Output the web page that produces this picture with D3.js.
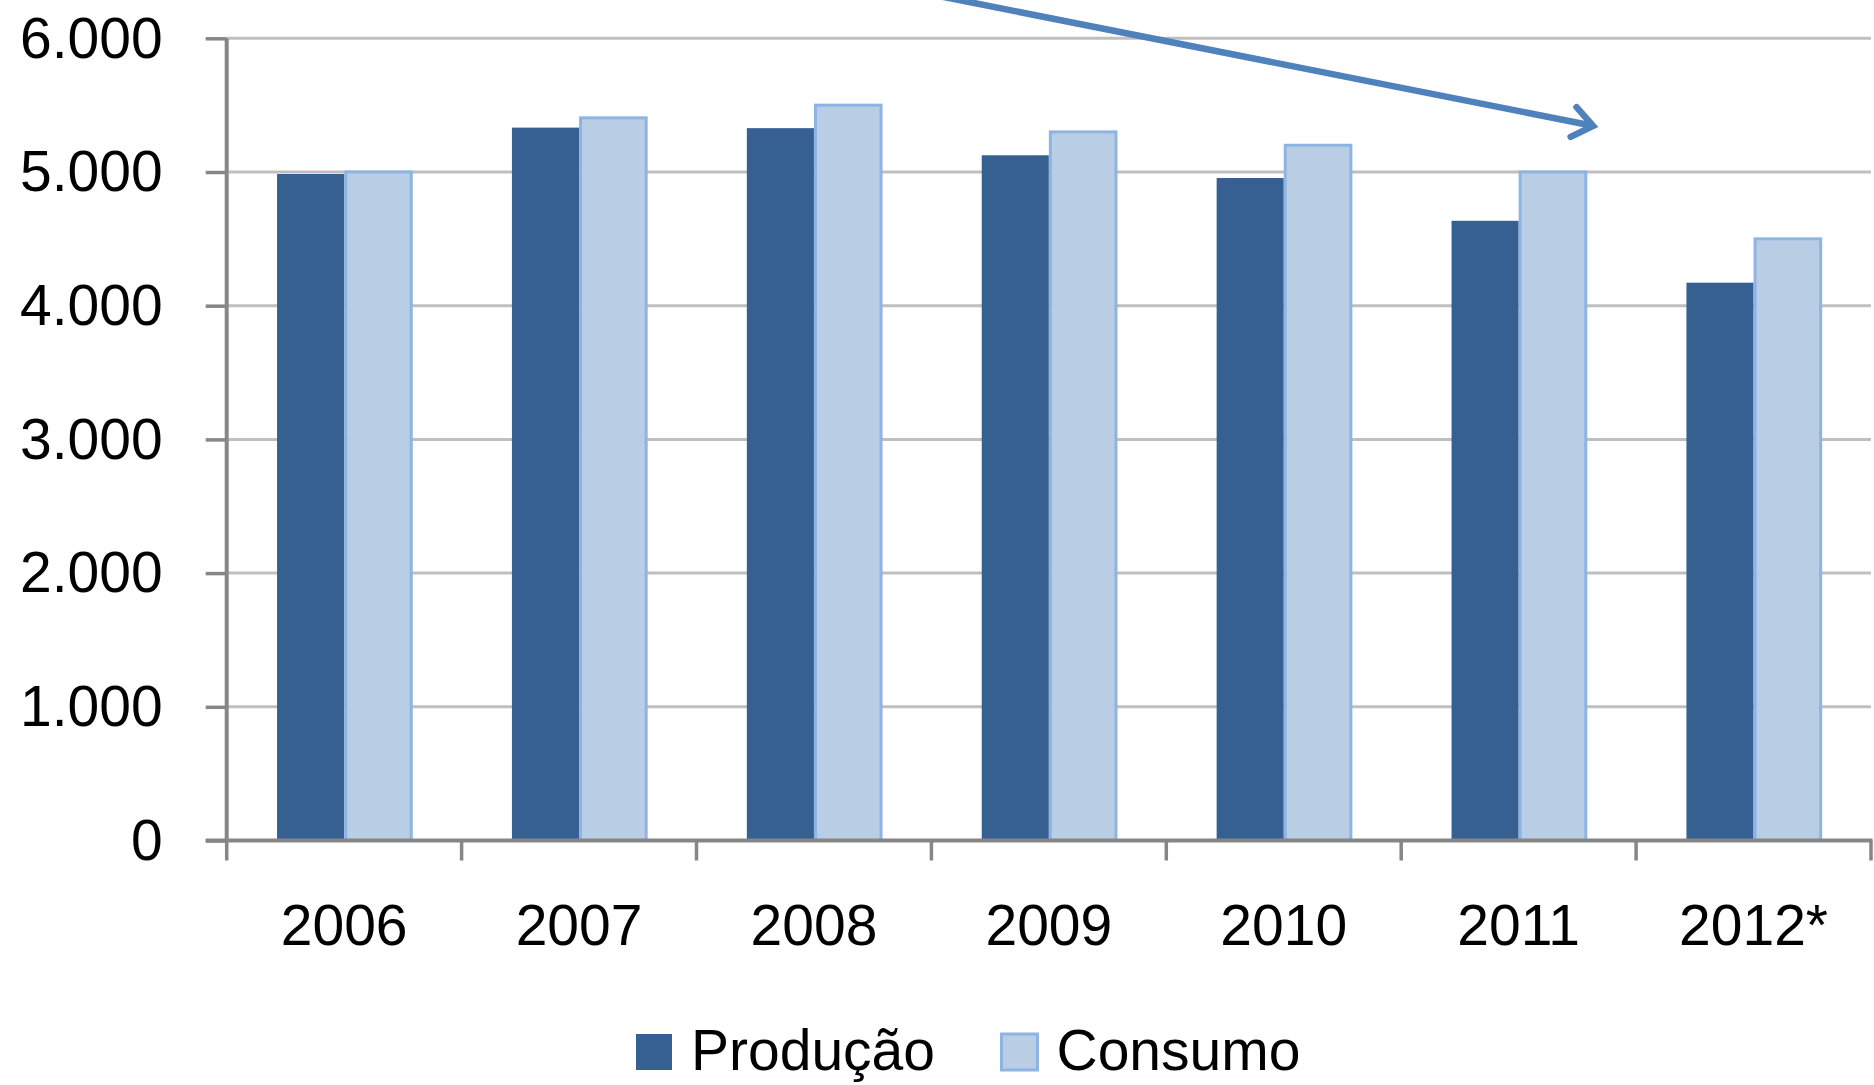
<!DOCTYPE html>
<html>
<head>
<meta charset="utf-8">
<script src="https://cdn.jsdelivr.net/npm/d3@7"></script>
<style>
  html, body { margin: 0; padding: 0; background: #ffffff; }
  svg { display: block; }
  text { font-family: "Liberation Sans", Arial, sans-serif; fill: #000; }
</style>
</head>
<body>
<svg id="chart" width="1874" height="1085"></svg>
<script>
// ---- data ----
const categories = ["2006", "2007", "2008", "2009", "2010", "2011", "2012*"];
const producao = [4985, 5332, 5328, 5125, 4955, 4635, 4172];
const consumo  = [5000, 5405, 5500, 5300, 5200, 5000, 4500];
const seriesNames = ["Produção", "Consumo"];
const yTicks = [0, 1000, 2000, 3000, 4000, 5000, 6000];

// ---- layout ----
const W = 1874, H = 1085;
const plot = { left: 226.7, right: 1871, top: 38.3, bottom: 840.5 };
const colors = {
  dark: "#376092",
  light: "#B9CDE5",
  lightStroke: "#8DB4E2",
  axis: "#868686",
  grid: "#BFBFBF",
  arrow: "#4F81BD"
};

const svg = d3.select("#chart");

const x = d3.scaleBand().domain(categories).range([plot.left, plot.right]).padding(0);
const xs = d3.scaleBand().domain(seriesNames).range([0, x.bandwidth()])
  .paddingInner(0).paddingOuter(0.75);
const y = d3.scaleLinear().domain([0, 6000]).range([plot.bottom, plot.top]);

const fmt = d3.formatLocale({ decimal: ",", thousands: ".", grouping: [3], currency: ["", ""] }).format(",d");

// gridlines
svg.append("g").selectAll("line").data(yTicks.filter(d => d > 0)).join("line")
  .attr("x1", plot.left).attr("x2", plot.right)
  .attr("y1", d => y(d)).attr("y2", d => y(d))
  .attr("stroke", colors.grid).attr("stroke-width", 3);

// bars
const rows = categories.map((c, i) => ({ cat: c, vals: [producao[i], consumo[i]] }));
const groups = svg.append("g").selectAll("g").data(rows).join("g")
  .attr("transform", d => `translate(${x(d.cat)},0)`);

groups.append("rect")
  .attr("x", xs("Produção")).attr("width", xs.bandwidth())
  .attr("y", d => y(d.vals[0])).attr("height", d => y(0) - y(d.vals[0]))
  .attr("fill", colors.dark);

groups.append("rect")
  .attr("x", xs("Consumo") + 1.5).attr("width", xs.bandwidth() - 1.5)
  .attr("y", d => y(d.vals[1])).attr("height", d => y(0) - y(d.vals[1]))
  .attr("fill", colors.light)
  .attr("stroke", colors.lightStroke).attr("stroke-width", 3);

// y axis
const yAxis = svg.append("g").attr("transform", `translate(${plot.left},0)`)
  .call(d3.axisLeft(y).tickValues(yTicks).tickFormat(fmt).tickSize(21).tickPadding(43));
yAxis.select(".domain").attr("stroke", colors.axis).attr("stroke-width", 4)
  .attr("d", `M0,${plot.top}V${plot.bottom}`);
yAxis.selectAll(".tick line").attr("stroke", colors.axis).attr("stroke-width", 3.5);
yAxis.selectAll(".tick text")
  .attr("font-size", 57).attr("dy", "0.33em")
  .style("font-family", '"Liberation Sans", Arial, sans-serif').attr("fill", "#000");

// x axis (ticks at category boundaries)
const boundaries = categories.map(c => x(c)).concat([x(categories[categories.length - 1]) + x.bandwidth()]);
const xAxisG = svg.append("g");
xAxisG.selectAll("line.tick").data(boundaries).join("line")
  .attr("class", "tick")
  .attr("x1", d => d).attr("x2", d => d)
  .attr("y1", plot.bottom).attr("y2", plot.bottom + 20)
  .attr("stroke", colors.axis).attr("stroke-width", 3.5);
xAxisG.append("line")
  .attr("x1", plot.left - 21).attr("x2", plot.right + 1.5)
  .attr("y1", plot.bottom).attr("y2", plot.bottom)
  .attr("stroke", colors.axis).attr("stroke-width", 4);
xAxisG.selectAll("text").data(categories).join("text")
  .attr("x", d => x(d) + x.bandwidth() / 2)
  .attr("y", plot.bottom + 104.5)
  .attr("text-anchor", "middle")
  .attr("font-size", 57)
  .text(d => d);

// arrow annotation (positioned in data terms)
const arrowStart = { cat: "2009", frac: -0.2, v: 6397 };
const arrowTip = { cat: "2011", frac: 0.817, v: 5345 };
const ax = p => x(p.cat) + p.frac * x.bandwidth();
const x0 = ax(arrowStart), y0 = y(arrowStart.v), x1 = ax(arrowTip), y1 = y(arrowTip.v);
const ang = Math.atan2(y1 - y0, x1 - x0);
const headLen = 25, headAng = 0.65;
svg.append("line")
  .attr("x1", x0).attr("y1", y0).attr("x2", x1 - 3 * Math.cos(ang)).attr("y2", y1 - 3 * Math.sin(ang))
  .attr("stroke", colors.arrow).attr("stroke-width", 6.5);
svg.append("path")
  .attr("d", d3.line()([
    [x1 - headLen * Math.cos(ang - headAng), y1 - headLen * Math.sin(ang - headAng)],
    [x1, y1],
    [x1 - headLen * Math.cos(ang + headAng), y1 - headLen * Math.sin(ang + headAng)]
  ]))
  .attr("fill", "none").attr("stroke", colors.arrow).attr("stroke-width", 6.5)
  .attr("stroke-linecap", "round").attr("stroke-linejoin", "miter");

// legend
const legendItems = [
  { name: seriesNames[0], fill: colors.dark, stroke: "none", x: 636 },
  { name: seriesNames[1], fill: colors.light, stroke: colors.lightStroke, x: 1001.5 }
];
const lg = svg.append("g");
legendItems.forEach(it => {
  lg.append("rect")
    .attr("x", it.x).attr("y", 1034)
    .attr("width", 36).attr("height", 36)
    .attr("fill", it.fill)
    .attr("stroke", it.stroke).attr("stroke-width", 3);
  lg.append("text")
    .attr("x", it.x + 55).attr("y", 1070)
    .attr("font-size", 57)
    .text(it.name);
});
</script>
</body>
</html>
